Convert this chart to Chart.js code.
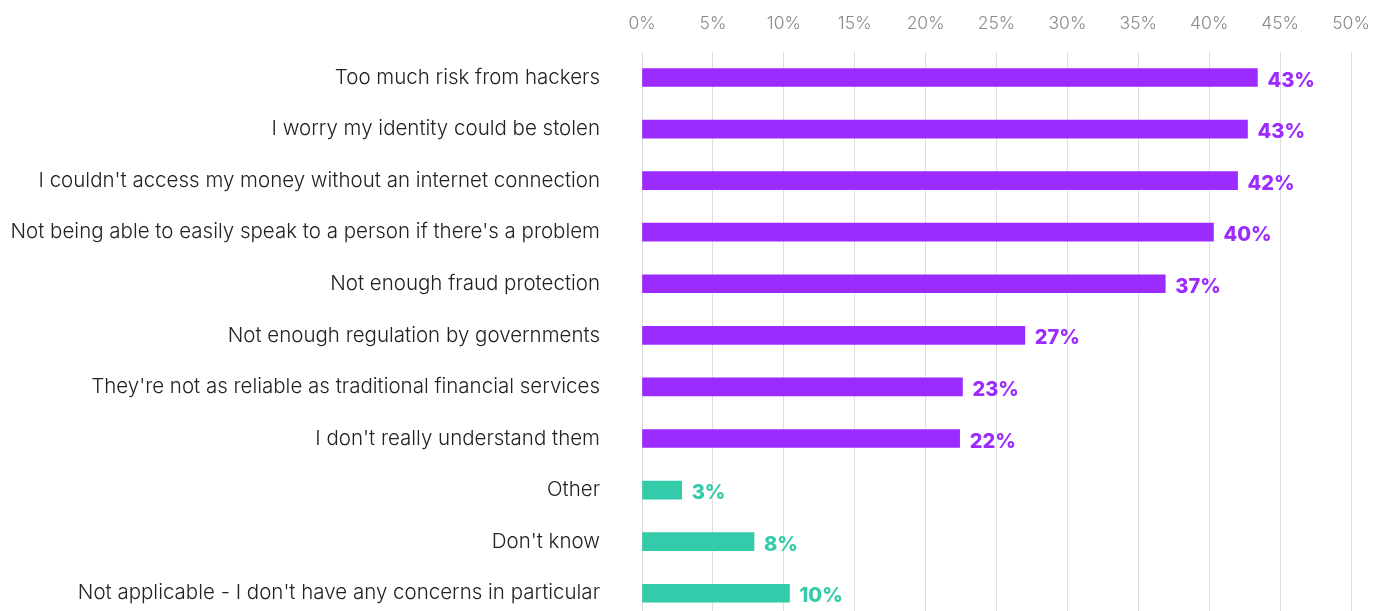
<!DOCTYPE html>
<html>
<head>
<meta charset="utf-8">
<script src="https://cdn.jsdelivr.net/npm/chart.js@4/dist/chart.umd.min.js"></script>
<style>
  html, body { margin: 0; padding: 0; background: #fff; overflow: hidden; }
  canvas { display: block; }
</style>
</head>
<body>
<canvas id="chart" width="1387" height="619"></canvas>
<script>
// Concerns about digital financial services, share of respondents (%)
const categories = [
  "Too much risk from hackers",
  "I worry my identity could be stolen",
  "I couldn't access my money without an internet connection",
  "Not being able to easily speak to a person if there's a problem",
  "Not enough fraud protection",
  "Not enough regulation by governments",
  "They're not as reliable as traditional financial services",
  "I don't really understand them",
  "Other",
  "Don't know",
  "Not applicable - I don't have any concerns in particular"
];
const shares = [43.4, 42.7, 42.0, 40.3, 36.9, 27.0, 22.6, 22.4, 2.8, 7.9, 10.4];
// concern rows use purple, the remaining answers teal
const groups = ["concern", "concern", "concern", "concern", "concern", "concern", "concern", "concern", "other", "other", "other"];
const tickValues = [0, 5, 10, 15, 20, 25, 30, 35, 40, 45, 50];

const PURPLE = "#9c2bff";
const TEAL = "#33cba9";
const barColors = groups.map(g => g === "concern" ? PURPLE : TEAL);

const valueLabels = {
  id: "valueLabels",
  afterDatasetsDraw(chart) {
    const ctx = chart.ctx;
    const meta = chart.getDatasetMeta(0);
    ctx.save();
    ctx.font = "800 20px Inter, 'Noto Sans', sans-serif";
    ctx.textAlign = "left";
    ctx.textBaseline = "middle";
    meta.data.forEach((bar, i) => {
      ctx.fillStyle = barColors[i];
      ctx.fillText(Math.round(shares[i]) + "%", bar.x + 10, bar.y + 3);
    });
    ctx.restore();
  }
};

new Chart(document.getElementById("chart"), {
  type: "bar",
  data: {
    labels: categories,
    datasets: [{
      data: shares,
      backgroundColor: barColors,
      borderWidth: 0,
      barThickness: 18
    }]
  },
  plugins: [valueLabels],
  options: {
    indexAxis: "y",
    responsive: false,
    animation: false,
    layout: { padding: { left: 0, right: 36, top: 0, bottom: 0 } },
    plugins: { legend: { display: false }, tooltip: { enabled: false } },
    scales: {
      x: {
        position: "top",
        min: 0,
        max: 50,
        afterBuildTicks(scale) { scale.ticks = tickValues.map(v => ({ value: v })); },
        afterFit(scale) { scale.height = 51.7; },
        ticks: {
          callback: v => v + "%",
          color: "#8a8a8a",
          font: { family: "Inter, 'Noto Sans', sans-serif", size: 17.5, weight: 300 },
          padding: 17,
          maxRotation: 0
        },
        grid: { color: "#dedede", lineWidth: 1, drawTicks: false },
        border: { display: false }
      },
      y: {
        afterFit(scale) {
          scale.width = 642;
          scale.paddingTop = 0;
          scale.paddingBottom = 0;
        },
        ticks: {
          color: "#222",
          font: { family: "Inter, 'Noto Sans', sans-serif", size: 20.5, weight: 300 },
          padding: 42,
          crossAlign: "near"
        },
        grid: { display: false, drawTicks: false },
        border: { display: false }
      }
    }
  }
});
</script>
</body>
</html>
